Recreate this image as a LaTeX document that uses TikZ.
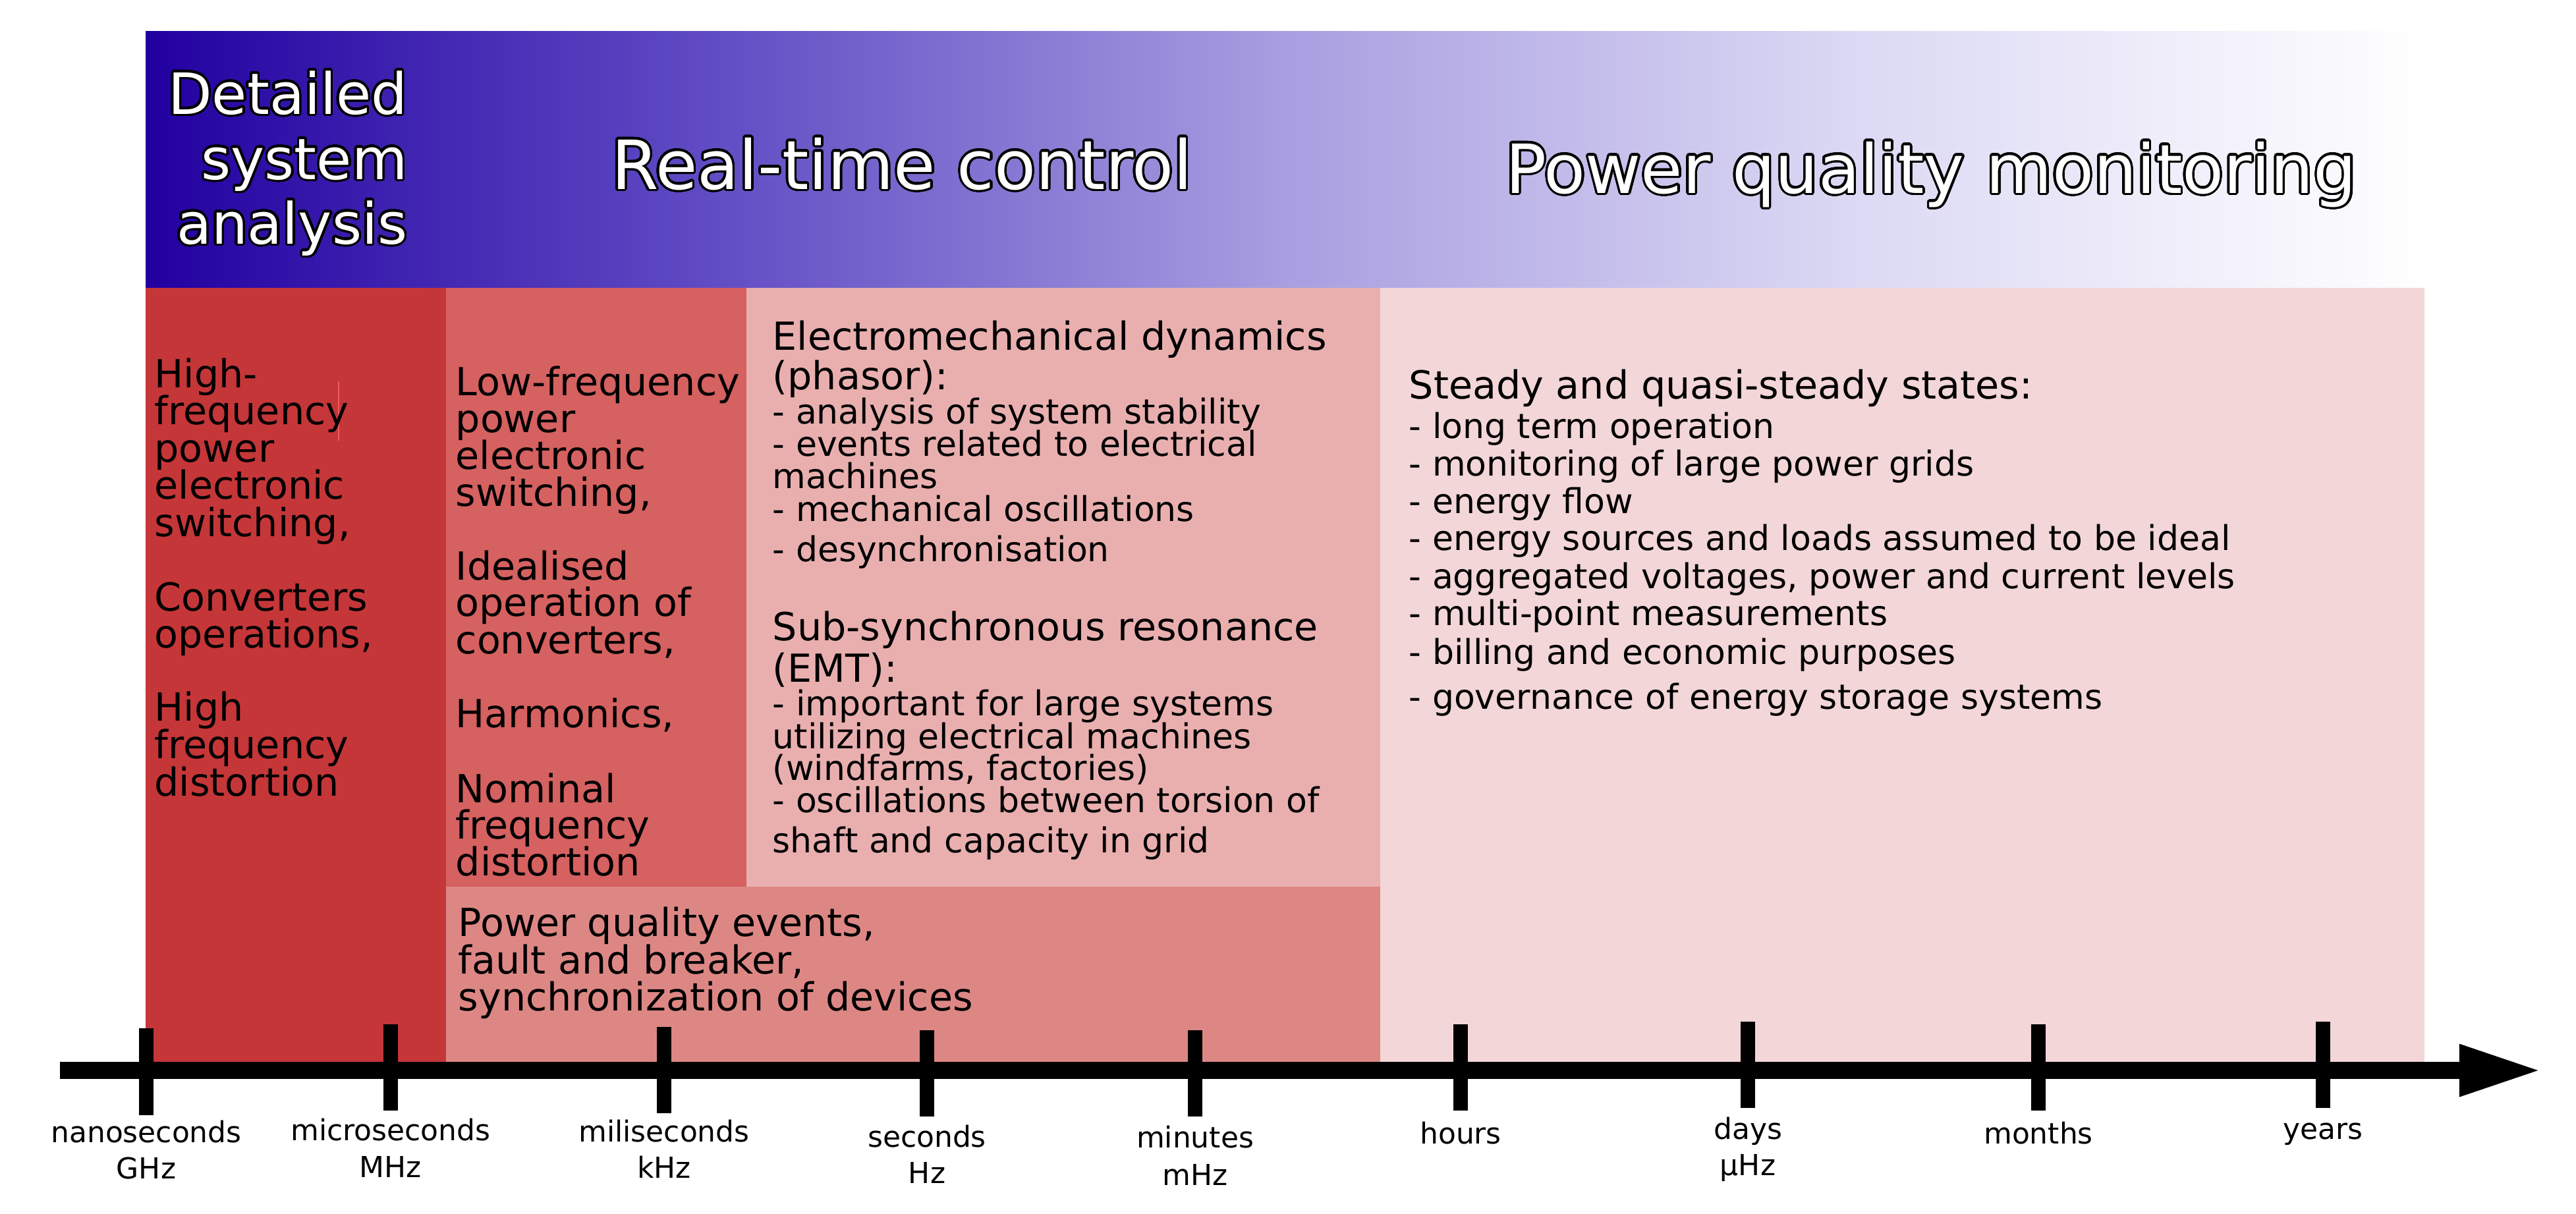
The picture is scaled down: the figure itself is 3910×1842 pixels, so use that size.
\documentclass[tikz,border=0pt]{standalone}
\usepackage{fontspec}
\setmainfont{DejaVu Sans}
\usepackage[copies]{contour}
\contourlength{1pt}
\contournumber{32}
\usetikzlibrary{arrows.meta}
\definecolor{cDark}{RGB}{197,54,56}
\definecolor{cMed}{RGB}{213,97,96}
\definecolor{cLight}{RGB}{233,175,175}
\definecolor{cPQ}{RGB}{221,135,133}
\definecolor{cPink}{RGB}{243,214,216}
\definecolor{cMark}{RGB}{240,90,90}
\pgfdeclarehorizontalshading{bannershade}{100bp}{rgb(0bp)=(0.133,0,0.627); rgb(25bp)=(0.133,0,0.627); rgb(37.5bp)=(0.38,0.30,0.77); rgb(50bp)=(0.66,0.62,0.88); rgb(62.5bp)=(0.86,0.85,0.955); rgb(75bp)=(1,1,1); rgb(100bp)=(1,1,1)}
\begin{document}
\begin{tikzpicture}[x=0.01cm,y=-0.01cm,
  txt/.style={inner sep=0pt, anchor=base west, font=\fontsize{16.7pt}{16pt}\selectfont},
  itm/.style={inner sep=0pt, anchor=base west, font=\fontsize{14.8pt}{15pt}\selectfont},
  axlabel/.style={inner sep=0pt, anchor=base, font=\fontsize{12.5pt}{14pt}\selectfont},
  tickmark/.style={line width=6.26pt},
  bigtitle/.style={inner sep=0pt, anchor=base, text=white, font=\fontsize{29.3pt}{30pt}\selectfont},
  dsa/.style={inner sep=0pt, anchor=base east, text=white, font=\fontsize{24.6pt}{28pt}\selectfont}]
\useasboundingbox (0,0) rectangle (3910,1842);
\fill[white] (0,0) rectangle (3910,1842);
% banner
\shade[shading=bannershade] (221,47) rectangle (3680,437);
% boxes
\fill[cDark] (221,437) rectangle (677,1612);
\fill[cMed] (677,437) rectangle (1133,1346);
\fill[cLight] (1133,437) rectangle (2095,1346);
\fill[cPQ] (677,1346) rectangle (2096,1612);
\fill[cPink] (2095,437) rectangle (3680,1612);
\draw[line width=0.6pt, cMark] (514,579) -- (514,669);
% banner titles
\node[dsa] (d1) at (619,173) {\contour{black}{Detailed}};
\node[dsa] (d2) at (619,272) {\contour{black}{system}};
\node[dsa] (d3) at (619,370) {\contour{black}{analysis}};
\node[bigtitle] (rtc) at (1369,287) {\contour{black}{Real-time control}};
\node[bigtitle] (pqm) at (2931,293) {\contour{black}{Power quality monitoring}};
% box 1
\foreach \y/\t [count=\i] in {588/High-, 644.5/frequency, 701/power, 757.5/electronic, 814/{switching,}, 927/Converters, 983.5/{operations,}, 1094/High, 1151/frequency, 1208/distortion}
  \node[txt] (ba\i) at (234,\y) {\t};
% box 2
\foreach \y/\t [count=\i] in {600/Low-frequency, 656/power, 712/electronic, 768/{switching,}, 880/Idealised, 935/operation of, 992/{converters,}, 1104/{Harmonics,}, 1218/Nominal, 1273/frequency, 1329/distortion}
  \node[txt] (bb\i) at (691,\y) {\t};
% box 3
\node[txt] (bc1) at (1172,531) {Electromechanical dynamics};
\node[txt] (bc2) at (1172,591.5) {(phasor):};
\foreach \y/\t [count=\i] in {643/- analysis of system stability, 692.6/- events related to electrical, 741/machines, 791/- mechanical oscillations, 852/- desynchronisation}
  \node[itm] (bcx\i) at (1172,\y) {\t};
\node[txt] (bc3) at (1172,972.5) {Sub-synchronous resonance};
\node[txt] (bc4) at (1172,1035) {(EMT):};
\foreach \y/\t [count=\i] in {1086/- important for large systems, 1136/utilizing electrical machines, 1184.6/{(windfarms, factories)}, 1233.7/- oscillations between torsion of, 1294/shaft and capacity in grid}
  \node[itm] (bcy\i) at (1172,\y) {\t};
% box 4
\node[txt] (bd0) at (2138,605.7) {Steady and quasi-steady states:};
\foreach \y/\t [count=\i] in {665.8/- long term operation, 722.6/- monitoring of large power grids, 779.8/- energy flow, 835.8/- energy sources and loads assumed to be ideal, 893/{- aggregated voltages, power and current levels}, 949.8/- multi-point measurements, 1008/- billing and economic purposes, 1076/- governance of energy storage systems}
  \node[itm] (bd\i) at (2138,\y) {\t};
% box 5
\node[txt] (be1) at (695,1421) {Power quality events,};
\node[txt] (be2) at (695,1478) {fault and breaker,};
\node[txt] (be3) at (695,1534) {synchronization of devices};
% axis
\coordinate (axstart) at (91,1625);
\coordinate (axend) at (3859,1625);
\draw[line width=7.4pt, -{Triangle[length=35.85pt,width=20.5pt]}] (axstart) -- (axend);
\foreach \x/\a/\b in {222/1561/1693, 593/1555/1686, 1008/1559/1690, 1407/1564/1695, 1814/1564/1695, 2217/1555/1686, 2653/1551/1682, 3094/1555/1686, 3526/1551/1682}
  \draw[tickmark] (\x,\a) -- (\x,\b);
% axis labels
\node[axlabel] (l1) at (222,1734) {nanoseconds};
\node[axlabel] (l1b) at (222,1789) {GHz};
\node[axlabel] (l2) at (593,1731) {microseconds};
\node[axlabel] (l2b) at (593,1787) {MHz};
\node[axlabel] (l3) at (1008,1733) {miliseconds};
\node[axlabel] (l3b) at (1008,1788) {kHz};
\node[axlabel] (l4) at (1407,1741) {seconds};
\node[axlabel] (l4b) at (1407,1796) {Hz};
\node[axlabel] (l5) at (1814,1742) {minutes};
\node[axlabel] (l5b) at (1814,1799) {mHz};
\node[axlabel] (l6) at (2217,1736) {hours};
\node[axlabel] (l7) at (2653,1729) {days};
\node[axlabel] (l7b) at (2653,1784) {μHz};
\node[axlabel] (l8) at (3094,1736) {months};
\node[axlabel] (l9) at (3526,1729) {years};
\end{tikzpicture}
\end{document}
